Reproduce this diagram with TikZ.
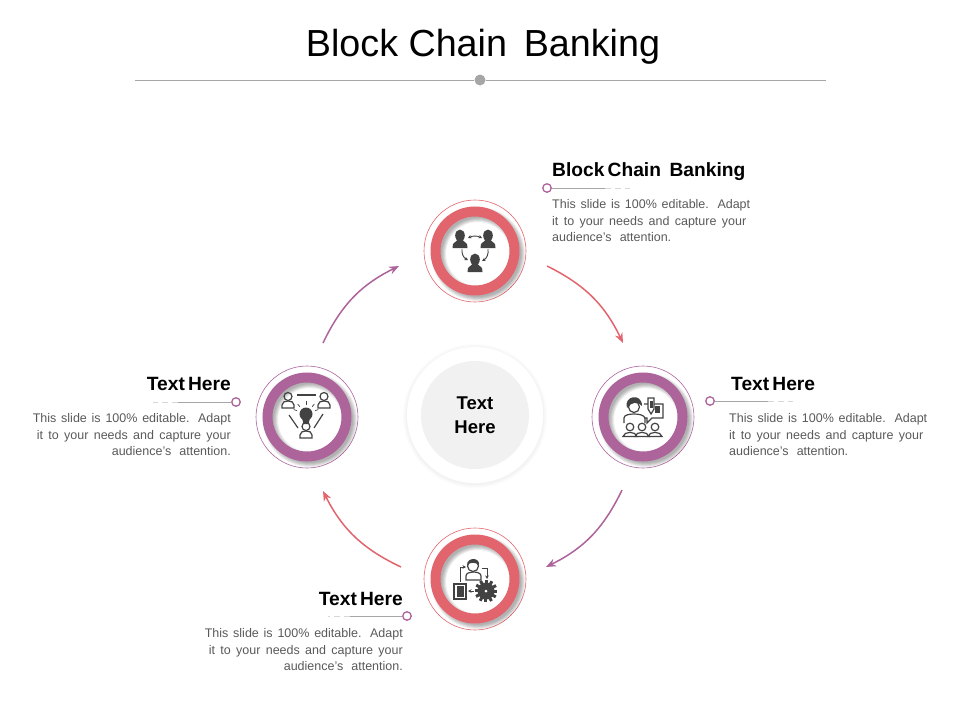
\documentclass[tikz,border=0pt]{standalone}
\usepackage{fontspec}
\setmainfont{Liberation Sans}
\usetikzlibrary{positioning,arrows.meta}
\definecolor{rosered}{HTML}{E2656D}
\definecolor{plum}{HTML}{AC649B}
\definecolor{icongray}{HTML}{424242}
\definecolor{bodygray}{HTML}{595959}
\definecolor{rulegray}{HTML}{A6A6A6}
\definecolor{hubgray}{HTML}{F1F1F1}
\newcommand{\blurbtext}{\hbox to 198pt{This slide is 100\% editable. Adapt}\\\hbox to 194pt{it to your needs and capture your}\\\hbox to 119pt{audience's attention.}}
\tikzset{
  edgering/.style={circle,draw=#1,line width=.6pt,minimum size=102pt,inner sep=0pt},
  mainring/.style={circle,draw=#1,line width=10pt,minimum size=79pt,inner sep=0pt},
  flowarrow/.style={draw=#1,line width=1.5pt,-{Stealth[length=10pt,width=8pt]}},
  pindot/.style={circle,draw=plum,fill=white,line width=1.3pt,minimum size=8.5pt,inner sep=0pt},
  leader/.style={draw=rulegray,line width=.6pt},
  leaderfade/.style={draw=rulegray!45,line width=.6pt,dash pattern=on 6pt off 4pt},
  headline/.style={inner sep=0pt,font=\fontsize{19.2}{22}\selectfont\bfseries,text=black},
  blurb/.style={inner sep=0pt,font=\fontsize{12.5}{16.5}\selectfont,text=bodygray},
  iconline/.style={draw=icongray,line width=1.2pt},
  iconarrow/.style={draw=icongray,line width=.9pt,-{Stealth[length=3.5pt,width=3.5pt]}},
  manfill/.pic={
    \fill[icongray] (0,-3.5) ellipse (4.8 and 6);
    \fill[icongray] (-7.5,9) -- (-7,5) -- (-2.5,1) -- (2.5,1) -- (7,5) -- (7.5,9) -- cycle;
  },
  manline/.pic={
    \draw[iconline] (0,-5.5) circle (4);
    \draw[iconline] (-6,6) -- (-6,3) .. controls (-6,0) and (-3,-1) .. (0,-1) .. controls (3,-1) and (6,0) .. (6,3) -- (6,6) -- cycle;
  }
}
\begin{document}
\begin{tikzpicture}[x=1pt,y=-1pt]
\useasboundingbox (0,0) rectangle (960,720);
\node[inner sep=0pt,font=\fontsize{37.7}{42}\selectfont] (title) at (483,47) {Block Chain\, Banking};
\node[circle,fill=rulegray,minimum size=11pt,inner sep=0pt] (titledot) at (480,80) {};
\coordinate (ruleL) at (135,80);
\coordinate (ruleR) at (826,80);
\draw[rulegray,line width=.7pt] (ruleL) -- (titledot) -- (ruleR);

% hub
\foreach \r in {72,71,70,69}{
  \fill[black,opacity=.012] (475,416) circle (\r);
}
\node[circle,fill=white,minimum size=136pt,inner sep=0pt] (hubouter) at (475,415) {};
\node[circle,fill=hubgray,minimum size=108pt,inner sep=0pt,align=center,font=\fontsize{18.5}{24}\selectfont\bfseries] (hub) at (475,415) {Text\\Here};

% the four steps
\foreach \n/\x/\y/\c in {A/475/251/rosered,B/643/417/plum,C/475/579/rosered,D/307/417/plum}{
  \node[edgering=\c] (out\n) at (\x,\y) {};
  \foreach \w in {15,13,11,9,7}{
    \draw[black,opacity=.07,line width=\w pt] (\x+3,\y+3) circle (39.5);
  }
  \node[mainring=\c] (ring\n) at (\x,\y) {};
}

% arrows round the hub
\coordinate (arrA) at (547,266);
\coordinate (arrB) at (623,343);
\coordinate (arrC) at (622,490);
\coordinate (arrD) at (546,567);
\coordinate (arrE) at (401,567);
\coordinate (arrF) at (323,491);
\coordinate (arrG) at (323,343);
\coordinate (arrH) at (399,266);
\draw[flowarrow=rosered] (arrA) to[bend left=19] (arrB);
\draw[flowarrow=plum] (arrC) to[bend left=19] (arrD);
\draw[flowarrow=rosered] (arrE) to[bend left=19] (arrF);
\draw[flowarrow=plum] (arrG) to[bend left=19] (arrH);

% leaders
\foreach \n/\x/\y/\e/\t in {A/547/188/605/630,B/710/401/768/793,C/407/616/350/328,D/236/402/178/153}{
  \node[pindot] (pin\n) at (\x,\y) {};
  \coordinate (end\n) at (\e,\y);
  \coordinate (tip\n) at (\t,\y);
  \draw[leader] (pin\n) -- (end\n);
  \draw[leaderfade] (end\n) -- (tip\n);
}

% labels
\node[headline,anchor=base west] (headA) at (552,176) {Block\,Chain\, Banking};
\node[blurb,anchor=north west,align=left] (textA) at (552,199.5) {\blurbtext};
\node[headline,anchor=base west] (headB) at (731,390) {Text\,Here};
\node[blurb,anchor=north west,align=left] (textB) at (729,413.5) {\blurbtext};
\node[headline,anchor=base east] (headC) at (403,605) {Text\,Here};
\node[blurb,anchor=north east,align=right] (textC) at (403,628.5) {\blurbtext};
\node[headline,anchor=base east] (headD) at (231,390) {Text\,Here};
\node[blurb,anchor=north east,align=right] (textD) at (231,413.5) {\blurbtext};

% icon A
\pic at (460,239) {manfill};
\pic at (488,239) {manfill};
\pic at (475,263) {manfill};
\draw[iconarrow,{Stealth[length=3.5pt,width=3.5pt]}-{Stealth[length=3.5pt,width=3.5pt]}] (468,238) to[bend left=25] (482,238);
\draw[iconarrow] (462,249) to[bend right=35] (468,260);
\draw[iconarrow] (488,249) to[bend left=35] (482,261);

% icon B
\draw[iconline] (634,407) circle (5.5);
\fill[icongray] (627,408) .. controls (623,396) and (642,392) .. (642,406) .. controls (638,401) and (631,402) .. (627,408) -- cycle;
\draw[iconline] (624,423) -- (624,418) .. controls (624,415) and (629,414) .. (634,414) .. controls (639,414) and (644,415) .. (645,418) -- (645,423);
\foreach \x in {630,642,655}{
  \draw[iconline] (\x,427) circle (3.8);
  \draw[iconline] (\x-7,436.5) .. controls (\x-6,431) and (\x+6,431) .. (\x+7,436.5) -- cycle;
}
\draw[iconline] (644,404) -- (663,404) -- (663,418) -- (652,418) -- (647,423) -- (647,418) -- (644,418);
\fill[icongray] (655,405.5) rectangle (660,413);
\draw[iconline,fill=white] (648,398) -- (648,409) -- (651,414) -- (654,409) -- (654,398) -- cycle;
\fill[icongray] (649.5,401) rectangle (652.5,408);

% icon C
\draw[iconline] (473,566) circle (5.5);
\fill[icongray] (467,565) .. controls (467,557) and (480,557) .. (479,565) .. controls (475,562) and (471,562) .. (467,565) -- cycle;
\draw[iconline] (466,580) -- (466,576) .. controls (466,573) and (470,572) .. (473,572) .. controls (477,572) and (481,573) .. (481,576) -- (481,580) -- cycle;
\draw[iconline] (454,584) rectangle (466,599);
\fill[icongray] (456.5,586) rectangle (463.5,597);
\foreach \a in {0,30,...,330}{
  \fill[icongray] (486,591) ++(\a-9:8) -- ++(\a:3.5) -- ++(\a+90:3) -- ++(\a+180:3.5) -- cycle;
}
\fill[icongray] (486,591) circle (8.5);
\fill[white] (486,591) circle (1.5);
\draw[iconarrow] (460,582) -- (460,567) -- (466,567);
\draw[iconarrow] (482,568) -- (487,568) -- (487,579);
\draw[iconarrow] (474,591) -- (468,591);

% icon D
\pic at (288,402) {manline};
\pic at (324,402) {manline};
\pic at (306,432) {manline};
\draw[iconline] (297,395) -- (316,395);
\fill[icongray] (306,414) circle (6.5);
\fill[icongray] (302,418) -- (310,418) -- (308.5,424) -- (303.5,424) -- cycle;
\foreach \a in {-160,-130,-90,-50,-20}{
  \draw[icongray,line width=.7pt] (306,414) ++(\a:9.5) -- ++(\a:3.5);
}
\draw[iconline] (289,415) -- (298,428);
\draw[iconline] (323,414) -- (314,428);
\end{tikzpicture}
\end{document}
